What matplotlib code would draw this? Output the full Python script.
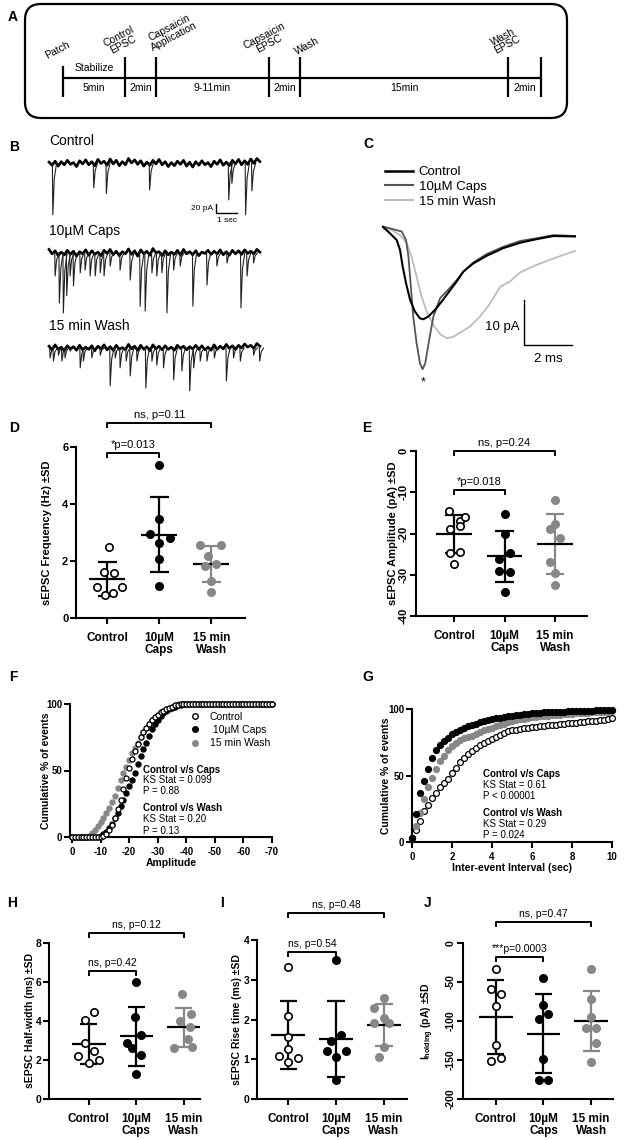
import matplotlib
matplotlib.use("Agg")
import matplotlib.pyplot as plt
from matplotlib.patches import FancyBboxPatch
from matplotlib.lines import Line2D
import numpy as np

plt.rcParams["font.family"] = ["Liberation Sans", "DejaVu Sans"]
plt.rcParams["mathtext.fontset"] = "custom"
plt.rcParams["mathtext.rm"] = "Liberation Sans"
plt.rcParams["mathtext.bf"] = "Liberation Sans:bold"
plt.rcParams["axes.unicode_minus"] = False

W, H = 625, 1140
GRAY = "#878787"

# ---------------- data ----------------
# A: protocol timeline
tl_events = ["Patch", "Control\nEPSC", "Capsaicin\nApplication", "Capsaicin\nEPSC", "Wash", "Wash\nEPSC"]
tl_durations = ["5min", "2min", "9-11min", "2min", "15min", "2min"]

# B: example traces (baseline noise in pA, events as time (s) / amplitude (pA))
ctrl_noise = [2, -5, 4, -7, 3, -4, 6, -3, 1, -8, 5, -2, 7, -4, 3, -6, 8, -1, 4, -5, 9, -2, 6, -6, 3,
              -4, 10, 0, 7, -3, 5, -7, 2, -5, 6, -2, 8, -4, 3, -8, 1, -6, 4, -3, 6, -7, 2, -9, 3, -5,
              5, -4, 1, -8, 4, -3, 7, -5, 2, -6, 6, -2, 8, -4, 5, -3, 9, -1, 10, 3]
caps_noise = [8, -2, 5, -6, 2, -4, 6, -3, 4, -7, 3, -2, 7, -5, 5, -3, 2, -6, 6, -1, 8, -4, 4, -6, 3,
              -2, 9, -3, 5, -7, 7, -2, 4, -5, 10, 0, 3, -6, 5, -4, 2, -3, 6, -5, 8, -2, 3, -4, 5, -6,
              2, -1, 6, -3, 4, -2, 7, -4, 3, -5, 6, -2, 5, -3, 7, -1, 4, -2, 8, 2]
wash_noise = [4, -4, 7, -3, 2, -6, 5, -2, 3, -5, 6, -4, 2, -3, 5, -6, 4, -2, 7, -4, 3, -5, 6, -3, 1,
              -4, 8, -2, 4, -5, 6, -3, 3, -6, 7, -2, 4, -4, 5, -3, 2, -5, 6, -1, 4, -4, 3, -2, 6, -3,
              5, -4, 2, -5, 7, -3, 4, -2, 8, -1, 5, -3, 6, 0, 9, 2, 6, -1, 10, 4]
ctrl_ev_t = [0.16, 2.1, 2.7, 4.75, 8.5, 8.65, 9.3, 9.6]
ctrl_ev_amp = [115, 55, 68, 60, 82, 45, 115, 62]
caps_ev_t = [0.27, 0.47, 0.66, 0.82, 0.98, 1.14, 1.46, 1.69, 1.93, 2.17, 2.41, 2.59, 2.88, 3.35, 3.83,
             4.30, 4.54, 4.86, 5.09, 5.33, 5.57, 5.89, 6.20, 6.80, 7.47, 7.94, 8.42, 9.08, 9.37, 9.68]
caps_ev_amp = [51, 111, 133, 95, 51, 73, 44, 38, 51, 51, 44, 51, 29, 38, 60,
               118, 129, 44, 51, 44, 133, 38, 29, 118, 71, 29, 22, 122, 51, 22]
wash_ev_t = [0.03, 0.19, 0.43, 0.59, 0.74, 0.98, 1.46, 1.61, 2.01, 2.41, 2.88, 3.12, 3.35, 3.64, 3.83, 4.15,
             4.57, 4.86, 5.09, 5.41, 5.89, 6.28, 6.65, 6.84, 7.15, 7.47, 7.82, 8.39, 8.73, 9.05, 9.68, 9.97]
wash_ev_amp = [22, 29, 16, 29, 22, 7, 44, 29, 22, 16, 84, 22, 44, 29, 62, 29,
               89, 29, 38, 44, 71, 51, 95, 44, 29, 29, 22, 73, 22, 29, 16, 29]

# C: averaged sEPSC (time ms, current pA)
c_ctrl_t = [0, 0.29, 0.57, 0.71, 0.82, 0.96, 1.13, 1.33, 1.54, 1.68, 1.89, 2.17, 2.44, 2.72, 3.07, 3.35,
            3.76, 4.32, 5.01, 5.71, 6.40, 7.10, 8.0]
c_ctrl_i = [0, -1.4, -2.9, -5.1, -8.8, -12.5, -16.2, -18.8, -20.3, -20.5, -19.9, -18.4, -16.6, -14.6,
            -12.1, -9.9, -8.1, -6.4, -4.7, -3.5, -2.7, -2.0, -2.1]
c_caps_t = [0, 0.43, 0.78, 0.96, 1.06, 1.15, 1.26, 1.40, 1.54, 1.65, 1.76, 1.90, 2.10, 2.38, 2.72, 3.07,
            3.35, 3.76, 4.32, 5.01, 5.71, 6.40, 7.10, 8.0]
c_caps_i = [0.1, -0.5, -1.0, -2.9, -6.6, -12.5, -19.9, -25.8, -30.3, -31.6, -30.3, -25.8, -19.9, -15.8,
            -13.9, -11.8, -9.9, -7.9, -6.0, -4.4, -3.1, -2.5, -1.8, -2.0]
c_wash_t = [0, 0.36, 0.71, 0.99, 1.19, 1.40, 1.61, 1.82, 2.10, 2.38, 2.65, 2.93, 3.21, 3.63, 4.04, 4.46,
            4.88, 5.29, 5.71, 6.40, 7.10, 8.0]
c_wash_i = [0, -0.7, -1.8, -3.6, -6.6, -11.0, -15.5, -18.8, -21.8, -23.8, -24.7, -24.4, -23.5, -22.1,
            -19.9, -17.0, -13.3, -12.1, -10.1, -8.4, -7.0, -5.3]

groups = ["Control", "10µM\nCaps", "15 min\nWash"]

# D: frequency (Hz)
d_ctrl = [2.49, 1.61, 1.58, 1.09, 1.09, 0.81, 0.88]
d_caps = [5.38, 3.49, 2.94, 2.81, 2.63, 2.08, 1.11]
d_wash = [2.57, 2.57, 2.16, 1.91, 1.84, 1.29, 0.90]
d_jit = [[0.03, -0.06, 0.13, -0.2, 0.29, -0.04, 0.12], [0, 0, -0.18, 0.2, 0, 0, 0],
         [-0.21, 0.18, -0.06, 0.1, -0.12, 0, 0]]
# E: amplitude (pA)
e_ctrl = [-14.5, -16.9, -16.1, -19.0, -18.2, -24.7, -24.4, -27.3]
e_caps = [-15.3, -20.2, -24.8, -26.3, -29.0, -29.3, -34.1]
e_wash = [-11.9, -17.6, -19.0, -21.0, -26.9, -29.5, -32.5]
e_jit = [[-0.09, 0.11, 0.21, -0.07, 0.11, -0.08, 0.11, 0.01], [0, 0, 0.11, -0.1, -0.1, 0.11, 0],
         [0, 0, -0.1, 0.1, -0.1, 0, 0]]
# F: cumulative amplitude distribution
f_amp = np.arange(0, -71, -1)
f_ctrl = [0] * 11 + [0.5, 2, 5, 9, 14, 21, 28, 36, 44, 52, 59, 65, 70, 75, 79, 82, 85, 88, 90, 92, 94,
                     95, 96, 97, 98, 99, 99.5] + [100] * 33
f_caps = [0] * 10 + [0.5, 2, 4, 7, 10, 14, 18, 23, 28, 33, 38, 43, 48, 55, 61, 66, 71, 76, 81, 85, 88,
                     91, 93, 95, 96, 97, 98, 99, 99.5] + [100] * 32
f_wash = [0] * 6 + [1, 3, 5, 8, 11, 14, 18, 22, 26, 31, 37, 43, 48, 53, 58, 63, 67, 71, 75, 79, 82, 85,
                    88, 90, 92, 94, 95, 96, 97, 98, 99] + [100] * 34
# G: cumulative inter-event interval distribution
g_iei = np.linspace(0, 10, 51)
g_ctrl = [3, 9, 16, 23, 28, 33, 37, 41, 44, 47, 52, 56, 60, 63, 66, 68.5, 71, 73, 74.5, 76, 77.5, 79,
          80.5, 82, 83.5, 84, 84.5, 85, 85.6, 86, 86.4, 86.8, 87.1, 87.4, 87.7, 88, 88.3, 88.6, 88.9,
          89.2, 89.5, 89.8, 90.1, 90.4, 90.7, 91, 91.3, 91.7, 92.1, 92.5, 93]
g_wash = [3, 12, 22, 32, 41, 48, 55, 61, 65, 69, 72, 74.5, 76.5, 78, 79, 80, 81.5, 83, 84, 85, 86, 87,
          88, 89, 90, 90.8, 91.5, 92.2, 92.8, 93.4, 93.8, 94.2, 94.5, 94.8, 95, 95.3, 95.6, 95.8, 96,
          96.3, 96.5, 96.7, 96.9, 97.1, 97.3, 97.5, 97.7, 97.8, 98, 98.1, 98.2]
g_caps = [3, 21, 37, 46, 55, 63, 69, 73, 76, 78.5, 81, 83, 84.5, 86, 87, 88, 89, 90, 91, 92, 92.5, 93,
          93.5, 94, 94.5, 95, 95.4, 95.8, 96.1, 96.4, 96.7, 97, 97.2, 97.4, 97.6, 97.8, 97.9, 98, 98.1,
          98.2, 98.3, 98.4, 98.5, 98.6, 98.7, 98.8, 98.9, 99, 99.1, 99.2, 99.3]
# H: half-width (ms)
h_ctrl = [4.47, 4.04, 2.88, 2.47, 2.2, 2.0, 1.86]
h_caps = [5.99, 4.22, 3.28, 2.88, 2.6, 2.24, 1.28]
h_wash = [5.38, 4.35, 4.0, 3.7, 3.1, 2.6, 2.68]
h_jit = [[0.11, -0.09, -0.09, 0.11, -0.22, 0.21, 0], [0, -0.02, 0.1, -0.2, -0.09, 0.1, 0],
         [-0.04, 0.15, -0.08, 0.12, 0.08, -0.2, 0.18]]
# I: rise time (ms)
i_ctrl = [3.33, 2.09, 1.55, 1.27, 1.09, 1.03, 0.92]
i_caps = [3.5, 1.61, 1.46, 1.22, 1.22, 1.06, 0.48]
i_wash = [2.53, 2.3, 2.05, 1.9, 1.9, 1.3, 1.06]
i_jit = [[0, 0, 0, 0, -0.2, 0.2, 0], [0, 0.1, -0.1, -0.19, 0.21, 0, 0], [0, -0.2, 0, -0.2, 0.1, 0, -0.1]]
# J: holding current (pA)
j_ctrl = [-32.8, -58.4, -65.7, -81, -131, -151, -148]
j_caps = [-44.3, -79.7, -97.7, -91.3, -149, -175.7, -175.7]
j_wash = [-33.7, -72, -95.5, -109.6, -109.6, -128.8, -152]
j_jit = [[0, -0.11, 0.1, 0, 0, -0.11, 0.1], [0, 0, -0.1, 0.1, 0, -0.1, 0.1], [0, 0, 0, -0.1, 0.1, 0.1, 0]]

fig = plt.figure(figsize=(W / 100, H / 100), dpi=100)


def px_axes(l, t, r, b):
    return fig.add_axes([l / W, 1 - b / H, (r - l) / W, (b - t) / H])


def ftext(x, y, s, **kw):
    fig.text(x / W, 1 - y / H, s, **kw)


for lab, x, y in [("A", 8, 17), ("B", 9, 147), ("C", 363, 144), ("D", 9, 428), ("E", 362, 428),
                  ("F", 9, 677), ("G", 362, 677), ("H", 7, 903), ("I", 220, 903), ("J", 424, 903)]:
    ftext(x, y, lab, fontsize=10, fontweight="bold", va="center")

# ---------------- A ----------------
axa = px_axes(0, 0, 625, 125)
axa.set_xlim(0, 625)
axa.set_ylim(125, 0)
axa.axis("off")
axa.add_patch(FancyBboxPatch((25, 4), 542, 114, boxstyle="round,pad=0,rounding_size=16",
                             fc="none", ec="black", lw=1.6))
tick_x = [63, 125, 156, 269, 300, 508, 541]
axa.hlines(78, tick_x[0], tick_x[-1], color="black", lw=1.6)
for k, x in enumerate(tick_x):
    axa.vlines(x, 66 if k == 0 else 57, 97, color="black", lw=1.6)
for k, txt in enumerate(tl_durations):
    axa.text((tick_x[k] + tick_x[k + 1]) / 2, 88, txt, fontsize=7.5, ha="center", va="center")
axa.text((tick_x[0] + tick_x[1]) / 2, 68, "Stabilize", fontsize=7.5, ha="center", va="center")
ev_pos = [(57, 50), (121, 41), (172, 32), (267, 40), (307, 46), (505, 41)]
for txt, (x, y) in zip(tl_events, ev_pos):
    axa.text(x, y, txt, fontsize=7.5, ha="center", va="center", rotation=28,
             multialignment="center", linespacing=0.95)

# ---------------- B ----------------
B_UPP = 2.22  # pA per pixel
for name, base_y, noise, ev_t, ev_amp in [("Control", 163, ctrl_noise, ctrl_ev_t, ctrl_ev_amp),
                                          ("10µM Caps", 253, caps_noise, caps_ev_t, caps_ev_amp),
                                          ("15 min Wash", 348, wash_noise, wash_ev_t, wash_ev_amp)]:
    ax = px_axes(45, base_y - 14, 265, base_y + 64)
    ax.set_xlim(-0.19, 10.24)
    ax.set_ylim(-64 * B_UPP, 14 * B_UPP)
    ax.axis("off")
    t = np.linspace(0, 10, len(noise))
    ax.plot(t, noise, color="black", lw=1.9)
    for et, ea in zip(ev_t, ev_amp):
        ax.plot([et, et + 0.02, et + 0.09, et + 0.2], [0, -ea, -0.3 * ea, 0], color="#222222", lw=0.8)
    ftext(49, base_y - 22, name, fontsize=10, va="center")
    if name == "Control":
        ax.plot([7.91, 7.91, 8.91], [-91, -111, -111], color="black", lw=1.0)
        ax.text(7.8, -100, "20 pA", fontsize=6, ha="right", va="center")
        ax.text(8.44, -127, "1 sec", fontsize=6, ha="center", va="center")

# ---------------- C ----------------
axc = px_axes(371, 220, 587, 392)
axc.set_xlim(-0.5, 8.5)
axc.set_ylim(-(392 - 227) / 4.5, (227 - 220) / 4.5)
axc.axis("off")
axc.plot(c_wash_t, c_wash_i, color="#bdbdbd", lw=1.3)
axc.plot(c_caps_t, c_caps_i, color="#555555", lw=1.3)
axc.plot(c_ctrl_t, c_ctrl_i, color="black", lw=1.5)
axc.plot([5.875, 5.875, 7.875], [-16.2, -26.2, -26.2], color="black", lw=1.0)
axc.text(5.7, -22.2, "10 pA", fontsize=9.5, ha="right", va="center")
axc.text(6.875, -29.3, "2 ms", fontsize=9.5, ha="center", va="center")
axc.text(1.67, -34.6, "*", fontsize=9, ha="center", va="center")
c_handles = [Line2D([], [], color="black", lw=1.8), Line2D([], [], color="#555555", lw=1.5),
             Line2D([], [], color="#bdbdbd", lw=1.5)]
axc.legend(c_handles, ["Control", "10µM Caps", "15 min Wash"], loc="upper left",
           bbox_to_anchor=(385 / W, 1 - 166 / H), bbox_transform=fig.transFigure, frameon=False,
           fontsize=9.5, handlelength=2.1, handletextpad=0.45, labelspacing=0.2, borderpad=0,
           borderaxespad=0)


# ---------------- scatter panels ----------------
def style_axes(ax, fs):
    ax.spines[["top", "right"]].set_visible(False)
    for s in ("left", "bottom"):
        ax.spines[s].set_linewidth(1.5)
    ax.tick_params(width=1.5, length=4, labelsize=fs)


def set_ylab(ax, text, x_px, left_px, right_px, fs):
    ax.set_ylabel(text, fontsize=fs, fontweight="bold", va="center")
    ax.yaxis.set_label_coords((x_px - left_px) / (right_px - left_px), 0.5)


def bracket(ax, x0, x1, y, txt, upp, fs):
    leg = 4 * upp
    ax.plot([x0, x0, x1, x1], [y - leg, y, y, y - leg], color="black", lw=1.4, clip_on=False)
    ax.text((x0 + x1) / 2, y + 3 * upp, txt, fontsize=fs, ha="center", va="bottom", clip_on=False)


def dot_panel(box, data, jit, ylim, yticks, ylabel, ylab_x, brackets, fs, lab_fs, rot=False,
              half=0.35, cap=0.18):
    l, t, r, b = box["px"]
    ax = px_axes(l, t, r, b)
    ax.set_xlim(*box["xlim"])
    ax.set_ylim(*ylim)
    upp = (ylim[1] - ylim[0]) / (b - t)
    for i, (vals, jj) in enumerate(zip(data, jit)):
        vals = np.asarray(vals, float)
        m, sd = vals.mean(), vals.std(ddof=1)
        c = GRAY if i == 2 else "black"
        ax.vlines(i, m - sd, m + sd, color=c, lw=1.6, zorder=2)
        ax.hlines([m - sd, m + sd], i - cap, i + cap, color=c, lw=1.6, zorder=2)
        ax.hlines(m, i - half, i + half, color="black", lw=1.6, zorder=2)
        fc = ["white", "black", GRAY][i]
        ec = ["black", "black", GRAY][i]
        ax.scatter(i + np.asarray(jj), vals, s=28, facecolors=fc, edgecolors=ec, linewidths=1.2,
                   zorder=3, clip_on=False)
    style_axes(ax, fs)
    ax.set_xticks([0, 1, 2])
    ax.set_xticklabels(groups, fontsize=lab_fs, fontweight="bold", linespacing=1.0)
    ax.tick_params(axis="x", pad=6)
    ax.tick_params(axis="y", pad=1.5)
    ax.set_yticks(yticks)
    if rot:
        ax.set_yticklabels([str(v) for v in yticks], rotation=90, va="center", fontweight="bold")
    else:
        ax.set_yticklabels([str(v) for v in yticks], fontweight="bold")
    set_ylab(ax, ylabel, ylab_x, l, r, fs)
    for x0, x1, y, txt in brackets:
        bracket(ax, x0, x1, y, txt, upp, fs)
    return ax


dot_panel({"px": (76, 447, 245, 618), "xlim": (-0.6, 2.65)}, [d_ctrl, d_caps, d_wash], d_jit,
          (0, 6), [0, 2, 4, 6], "sEPSC Frequency (Hz) ±SD", 47,
          [(0, 1, 5.79, "*p=0.013"), (0, 2, 6.84, "ns, p=0.11")], 8, 8.5)
dot_panel({"px": (416, 451, 587, 616), "xlim": (-0.75, 2.63)}, [e_ctrl, e_caps, e_wash], e_jit,
          (-40, 0), [-40, -30, -20, -10, 0], "sEPSC Amplitude (pA) ±SD", 393,
          [(0, 1, -9.45, "*p=0.018"), (0, 2, -0.1, "ns, p=0.24")], 8, 8.5, rot=True)
dot_panel({"px": (49, 943, 200, 1099), "xlim": (-0.84, 2.34)}, [h_ctrl, h_caps, h_wash], h_jit,
          (0, 8), [0, 2, 4, 6, 8], "sEPSC Half-width (ms) ±SD", 30,
          [(0, 1, 6.58, "ns, p=0.42"), (0, 2, 8.53, "ns, p=0.12")], 7.5, 8.5)
dot_panel({"px": (257, 940, 407, 1099), "xlim": (-0.65, 2.48)}, [i_ctrl, i_caps, i_wash], i_jit,
          (0, 4), [0, 1, 2, 3, 4], "sEPSC Rise time (ms) ±SD", 237,
          [(0, 1, 3.71, "ns, p=0.54"), (0, 2, 4.67, "ns, p=0.48")], 7.5, 8.5)
dot_panel({"px": (463, 943, 613, 1099), "xlim": (-0.69, 2.46)}, [j_ctrl, j_caps, j_wash], j_jit,
          (-200, 0), [-200, -150, -100, -50, 0], r"I$_{\mathbf{holding}}$ (pA) ±SD", 428,
          [(0, 1, -17.6, "***p=0.0003"), (0, 2, 27.3, "ns, p=0.47")], 7.5, 8.5, rot=True)

# ---------------- F ----------------
axf = px_axes(70, 704, 272, 837)
axf.set_xlim(0.7, -70)
axf.set_ylim(0, 100)
axf.plot(f_amp, f_wash, "o", ms=3.6, color=GRAY, mec=GRAY, clip_on=False, zorder=3)
axf.plot(f_amp, f_caps, "o", ms=3.6, color="black", clip_on=False, zorder=4)
axf.plot(f_amp, f_ctrl, "o", ms=3.6, mfc="white", mec="black", mew=0.9, clip_on=False, zorder=5)
style_axes(axf, 7)
axf.tick_params(axis="y", pad=1.5)
axf.set_xticks(range(0, -71, -10))
axf.set_yticks([0, 50, 100])
for lbl in axf.get_xticklabels() + axf.get_yticklabels():
    lbl.set_fontweight("bold")
axf.set_xlabel("Amplitude", fontsize=7.5, fontweight="bold", va="center")
axf.xaxis.set_label_coords(0.5, -(863 - 837) / 133)
set_ylab(axf, "Cumulative % of events", 46, 70, 272, 7.5)
f_handles = [Line2D([], [], marker="o", ls="", ms=4, mfc="white", mec="black", mew=1),
             Line2D([], [], marker="o", ls="", ms=4, color="black"),
             Line2D([], [], marker="o", ls="", ms=4, color=GRAY)]
axf.legend(f_handles, ["Control", " 10µM Caps", "15 min Wash"], loc="upper left",
           bbox_to_anchor=(190 / W, 1 - 712 / H), bbox_transform=fig.transFigure, frameon=False,
           fontsize=7.5, handlelength=1.0, handletextpad=0.9, labelspacing=0.3, borderpad=0,
           borderaxespad=0)
for y, txt, wt in [(770, "Control v/s Caps", "bold"), (780, "KS Stat = 0.099", "normal"),
                   (791, "P = 0.88", "normal"), (808, "Control v/s Wash", "bold"),
                   (819, "KS Stat = 0.20", "normal"), (831, "P = 0.13", "normal")]:
    ftext(143, y, txt, fontsize=7, fontweight=wt, va="center")

# ---------------- G ----------------
axg = px_axes(412, 709, 612, 842)
axg.set_xlim(0, 10)
axg.set_ylim(0, 100)
axg.plot(g_iei, g_ctrl, "o", ms=4.2, mfc="white", mec="black", mew=0.9, clip_on=False, zorder=3)
axg.plot(g_iei, g_wash, "o", ms=4.2, color=GRAY, clip_on=False, zorder=4)
axg.plot(g_iei, g_caps, "o", ms=4.2, color="black", clip_on=False, zorder=5)
style_axes(axg, 7)
axg.tick_params(axis="y", pad=1.5)
axg.set_xticks(range(0, 11, 2))
axg.set_yticks([0, 50, 100])
for lbl in axg.get_xticklabels() + axg.get_yticklabels():
    lbl.set_fontweight("bold")
axg.set_xlabel("Inter-event Interval (sec)", fontsize=7.5, fontweight="bold", va="center")
axg.xaxis.set_label_coords(0.5, -(868 - 842) / 133)
set_ylab(axg, "Cumulative % of events", 386, 412, 612, 7.5)
for y, txt, wt in [(774, "Control v/s Caps", "bold"), (785, "KS Stat = 0.61", "normal"),
                   (796, "P < 0.00001", "normal"), (813, "Control v/s Wash", "bold"),
                   (824, "KS Stat = 0.29", "normal"), (835, "P = 0.024", "normal")]:
    ftext(483, y, txt, fontsize=7, fontweight=wt, va="center")

fig.savefig("out.png", dpi=100)
